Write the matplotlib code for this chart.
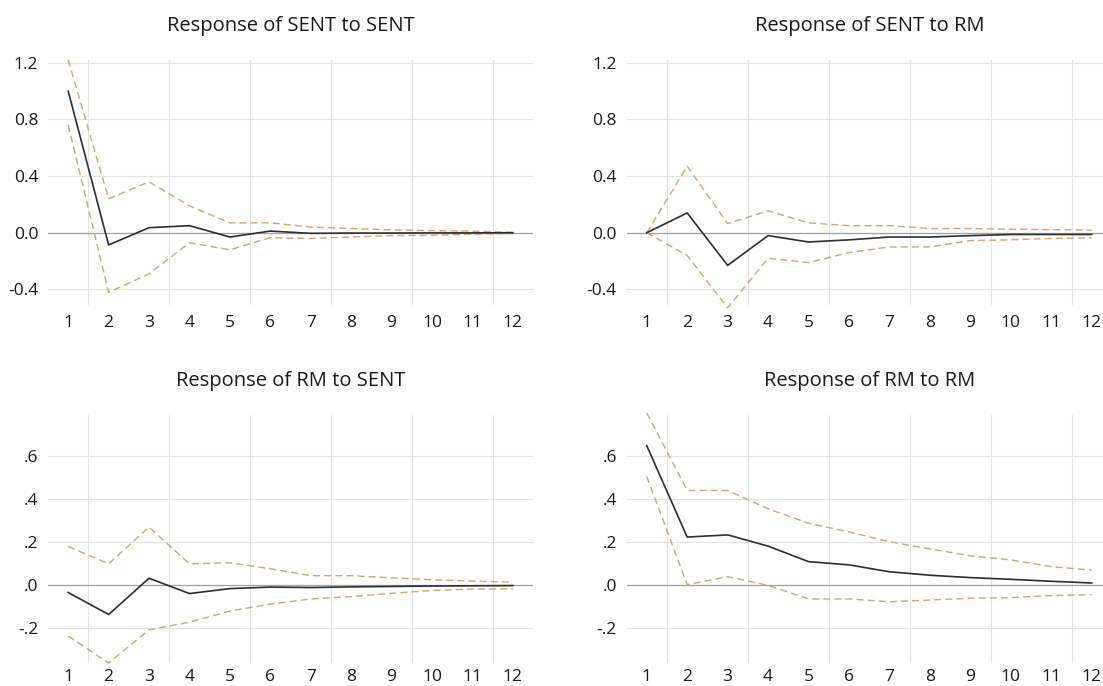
import numpy as np
import matplotlib
matplotlib.use("Agg")
import matplotlib.pyplot as plt

plt.rcParams['font.family'] = ['Open Sans', 'DejaVu Sans']

periods = np.arange(1, 13)

# Response of SENT to SENT
sent_sent = [1.00, -0.086, 0.036, 0.05, -0.03, 0.012, -0.004, -0.002, -0.002, -0.001, -0.001, 0.0]
sent_sent_hi = [1.22, 0.24, 0.36, 0.19, 0.07, 0.07, 0.04, 0.03, 0.02, 0.015, 0.012, 0.003]
sent_sent_lo = [0.76, -0.42, -0.29, -0.07, -0.12, -0.035, -0.04, -0.03, -0.02, -0.018, -0.01, -0.005]

# Response of SENT to RM
sent_rm = [0.0, 0.14, -0.23, -0.02, -0.065, -0.05, -0.03, -0.03, -0.02, -0.012, -0.012, -0.012]
sent_rm_hi = [0.0, 0.47, 0.065, 0.155, 0.07, 0.05, 0.05, 0.03, 0.03, 0.025, 0.022, 0.018]
sent_rm_lo = [0.0, -0.16, -0.53, -0.18, -0.21, -0.14, -0.10, -0.10, -0.055, -0.05, -0.04, -0.035]

# Response of RM to SENT
rm_sent = [-0.033, -0.135, 0.033, -0.038, -0.015, -0.008, -0.01, -0.007, -0.005, -0.003, -0.002, -0.001]
rm_sent_hi = [0.18, 0.10, 0.27, 0.10, 0.105, 0.077, 0.045, 0.045, 0.035, 0.026, 0.02, 0.015]
rm_sent_lo = [-0.235, -0.36, -0.206, -0.171, -0.119, -0.087, -0.063, -0.052, -0.037, -0.024, -0.017, -0.016]

# Response of RM to RM
rm_rm = [0.648, 0.224, 0.234, 0.182, 0.11, 0.095, 0.063, 0.047, 0.036, 0.028, 0.019, 0.011]
rm_rm_hi = [0.80, 0.44, 0.44, 0.355, 0.288, 0.248, 0.202, 0.169, 0.137, 0.118, 0.087, 0.071]
rm_rm_lo = [0.505, 0.003, 0.04, 0.0, -0.063, -0.063, -0.076, -0.068, -0.06, -0.057, -0.047, -0.043]

titles = ["Response of SENT to SENT", "Response of SENT to RM",
          "Response of RM to SENT", "Response of RM to RM"]
top_ticks = [-0.4, 0.0, 0.4, 0.8, 1.2]
top_labels = ["-0.4", "0.0", "0.4", "0.8", "1.2"]
bot_ticks = [-0.2, 0.0, 0.2, 0.4, 0.6]
bot_labels = ["-.2", ".0", ".2", ".4", ".6"]

panels = [
    (sent_sent, sent_sent_hi, sent_sent_lo),
    (sent_rm, sent_rm_hi, sent_rm_lo),
    (rm_sent, rm_sent_hi, rm_sent_lo),
    (rm_rm, rm_rm_hi, rm_rm_lo),
]

fig = plt.figure(figsize=(11.03, 6.86), dpi=100)
W, H = 1103, 686
# axes boxes in pixels: left, top, right, bottom (right panels run past the edge)
boxes = [(48, 60, 533, 305), (626.5, 60, 1112, 305),
         (48, 415, 533, 663), (626.5, 415, 1112, 663)]

grid_c = "#e4e4e4"
band_c = "#d9a270"
line_c = "#2e2e2e"

for i, ((mid, hi, lo), (l, t, r, b)) in enumerate(zip(panels, boxes)):
    ax = fig.add_axes([l / W, 1 - b / H, (r - l) / W, (b - t) / H])
    for s in ax.spines.values():
        s.set_visible(False)
    ax.set_xlim(0.5, 12.5)
    if i < 2:
        ax.set_ylim(-0.51, 1.22)
        ax.set_yticks(top_ticks)
        ax.set_yticklabels(top_labels)
    else:
        ax.set_ylim(-0.36, 0.79)
        ax.set_yticks(bot_ticks)
        ax.set_yticklabels(bot_labels)
    ax.set_xticks(periods)
    ax.set_xticks(np.arange(1.5, 12.5, 2), minor=True)
    ax.tick_params(which='both', length=0, labelsize=12.5, colors="#1a1a1a")
    ax.tick_params(axis='y', pad=7)
    ax.tick_params(axis='x', pad=7 if i < 2 else 4)
    ax.grid(True, axis='y', which='major', color=grid_c, linewidth=0.8)
    ax.grid(True, axis='x', which='minor', color=grid_c, linewidth=0.8)
    ax.set_axisbelow(True)
    ax.axhline(0, color="#a0a0a0", linewidth=0.9, zorder=1)

    ax.plot(periods, hi, color=band_c, linestyle=(0, (5, 3)), linewidth=1.0, clip_on=False, zorder=2)
    ax.plot(periods, lo, color=band_c, linestyle=(0, (5, 3)), linewidth=1.0, clip_on=False, zorder=2)
    ax.plot(periods, mid, color=line_c, linewidth=1.2, clip_on=False, zorder=3)
    ax.set_title(titles[i], fontsize=14.5, color="#1a1a1a", pad=21)

fig.savefig("out.png", dpi=100)
